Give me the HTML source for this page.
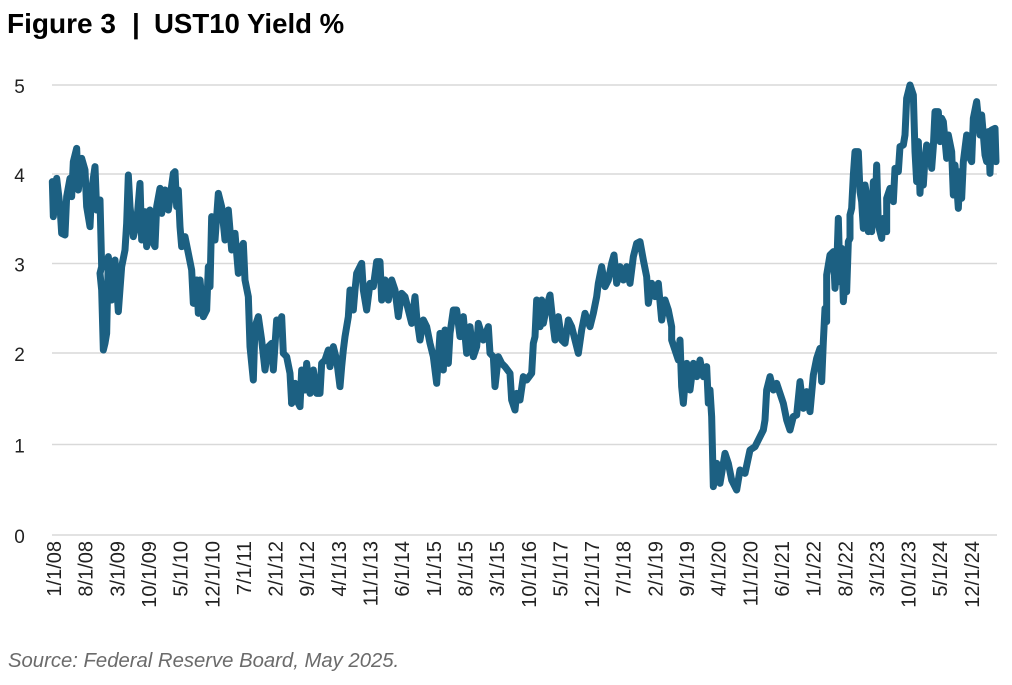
<!DOCTYPE html>
<html><head><meta charset="utf-8"><style>
html,body{margin:0;padding:0;background:#fff;}
body{width:1012px;height:685px;overflow:hidden;position:relative;font-family:"Liberation Sans",sans-serif;}
svg{position:absolute;left:0;top:0;}
</style></head><body>
<svg width="1012" height="685" viewBox="0 0 1012 685" xmlns="http://www.w3.org/2000/svg">
<text x="7" y="33" font-family="Liberation Sans, sans-serif" font-weight="bold" font-size="28" fill="#000">Figure 3</text>
<text x="132" y="33" font-family="Liberation Sans, sans-serif" font-weight="bold" font-size="28" fill="#000">|</text>
<text x="154" y="33" font-family="Liberation Sans, sans-serif" font-weight="bold" font-size="27.6" fill="#000">UST10 Yield %</text>

<g stroke="#d9d9d9" stroke-width="1.5">
<line x1="52" y1="85" x2="997" y2="85"/>
<line x1="52" y1="174" x2="997" y2="174"/>
<line x1="52" y1="263.5" x2="997" y2="263.5"/>
<line x1="52" y1="353" x2="997" y2="353"/>
<line x1="52" y1="444.5" x2="997" y2="444.5"/>
<line x1="52" y1="535" x2="997" y2="535"/>
</g>
<g font-family="Liberation Sans, sans-serif" font-size="19" fill="#222" text-anchor="middle">
<text x="19.5" y="93">5</text>
<text x="19.5" y="182">4</text>
<text x="19.5" y="271.5">3</text>
<text x="19.5" y="361">2</text>
<text x="19.5" y="452.5">1</text>
<text x="19.5" y="543">0</text>
</g>

<g fill="none" stroke="#1c6082" stroke-width="7" stroke-linejoin="round" stroke-linecap="round">
<polyline vector-effect="non-scaling-stroke" transform="matrix(0.333333,0,0,0.333333,45,140)" points="22,125 25,230 35,115 45,200 50,280 60,285 65,170 75,115 80,170 85,65 95,25 100,150 110,55 120,90 125,200 135,260 140,150 150,80 155,210 165,180 170,380 165,400 170,450 175,630 180,610 185,580 190,350 200,480 210,360 220,515 230,380 240,330 245,250 250,105 255,200 265,290 275,250 285,130 290,300 300,215 305,320 315,210 320,300 330,320 335,200 345,145 350,220 360,150 370,210 385,100 390,95 395,200 400,150 405,260 410,320 420,290 430,340 440,390 445,490 455,420 460,520 465,420 475,530 485,510 490,380 495,440 500,230 510,300 520,160 530,200 540,300 550,210 560,330 570,280 580,400 590,320 595,310 600,420 610,470 615,620 625,720 630,560 640,530 650,600 660,690 670,620 680,610 685,690 695,540 705,560 710,530 715,640 725,650 735,700 740,790"/>
<polyline vector-effect="non-scaling-stroke" transform="matrix(0.333333,0,0,0.333333,280,230)" points="35,520 45,460 55,520 60,530 65,420 75,480 80,400 90,490 100,420 110,490 120,490 125,400 135,390 145,360 150,410 160,350 170,390 180,470 185,410 190,360 195,320 205,260 210,180 220,240 225,180 230,130 245,100 250,180 260,240 270,160 280,170 290,95 300,95 305,210 315,150 325,210 335,150 345,180 355,260 365,190 375,200 385,240 395,280 405,200 410,260 420,330 430,270 440,290 450,340 460,380 470,460 480,310 490,420 495,300 505,400 510,310 520,240 530,240 540,320 550,260 560,370 570,290 580,380 590,350 595,280 610,330 625,290 630,370 640,380 645,470 655,380 665,400 675,410 690,430 695,510 705,540 710,490 720,510 730,440 740,450 755,430 760,340 765,320 770,210 780,290"/>
<polyline vector-effect="non-scaling-stroke" transform="matrix(0.333333,0,0,0.333333,540,230)" points="0,290 5,210 10,280 20,230 30,195 40,290 45,330 55,260 65,330 75,340 85,270 95,290 105,330 115,370 125,300 135,250 150,290 160,250 170,200 175,160 185,110 195,170 205,150 215,100 222,75 230,160 240,110 250,150 260,110 270,160 280,80 290,40 300,35 310,90 320,140 325,220 335,160 345,200 355,160 365,270 375,210 385,240 395,290 395,330 405,360 415,390 420,330 425,470 430,520 440,400 450,480 460,400 470,440 480,390 490,440 500,410 505,520 510,480 515,560 520,770 530,700 540,760 555,670 565,700 575,750 590,780 600,720 615,730 630,660 645,650 660,620 670,600 675,570 680,480 690,440 700,480 710,460 720,490 730,520 740,570 750,600 760,560"/>
<polyline vector-effect="non-scaling-stroke" transform="matrix(0.333333,0,0,0.333333,790,75)" points="10,1025 20,1020 30,920 40,1000 50,950 60,1010 70,900 80,850 90,820 95,920 100,800 105,700 110,740 110,600 120,540 130,530 135,640 140,580 145,430 150,620 155,520 160,680 165,620 170,650 175,500 180,490 180,420 185,400 190,300 195,230 205,230 210,350 215,380 220,460 225,330 230,360 235,470 240,380 245,470 250,320 255,430 260,270 265,450 275,490 280,430 290,470 290,370 300,340 310,380 315,280 325,290 330,215 340,210 345,180 350,70 360,30 370,60 375,230 380,320 385,200 390,355 395,260 400,330 405,250 410,210 420,230 425,280 430,215 435,110 445,110 450,200 455,130 460,140 470,250 475,180 485,230 490,360 495,270 500,330 505,400 510,290 515,370 520,260 525,220 530,180 535,240 545,260 550,130 560,80 570,180 575,120 585,240 590,260 595,170 600,295 605,165 615,160 618,260"/>
</g>

<g font-family="Liberation Sans, sans-serif" font-size="20" fill="#222" text-anchor="end">
<text transform="translate(61,541) rotate(-90)">1/1/08</text>
<text transform="translate(92.65,541) rotate(-90)">8/1/08</text>
<text transform="translate(124.3,541) rotate(-90)">3/1/09</text>
<text transform="translate(155.95,541) rotate(-90)">10/1/09</text>
<text transform="translate(187.6,541) rotate(-90)">5/1/10</text>
<text transform="translate(219.25,541) rotate(-90)">12/1/10</text>
<text transform="translate(250.9,541) rotate(-90)">7/1/11</text>
<text transform="translate(282.55,541) rotate(-90)">2/1/12</text>
<text transform="translate(314.2,541) rotate(-90)">9/1/12</text>
<text transform="translate(345.85,541) rotate(-90)">4/1/13</text>
<text transform="translate(377.5,541) rotate(-90)">11/1/13</text>
<text transform="translate(409.15,541) rotate(-90)">6/1/14</text>
<text transform="translate(440.8,541) rotate(-90)">1/1/15</text>
<text transform="translate(472.45,541) rotate(-90)">8/1/15</text>
<text transform="translate(504.1,541) rotate(-90)">3/1/15</text>
<text transform="translate(535.75,541) rotate(-90)">10/1/16</text>
<text transform="translate(567.4,541) rotate(-90)">5/1/17</text>
<text transform="translate(599.05,541) rotate(-90)">12/1/17</text>
<text transform="translate(630.7,541) rotate(-90)">7/1/18</text>
<text transform="translate(662.35,541) rotate(-90)">2/1/19</text>
<text transform="translate(694,541) rotate(-90)">9/1/19</text>
<text transform="translate(725.65,541) rotate(-90)">4/1/20</text>
<text transform="translate(757.3,541) rotate(-90)">11/1/20</text>
<text transform="translate(788.95,541) rotate(-90)">6/1/21</text>
<text transform="translate(820.6,541) rotate(-90)">1/1/22</text>
<text transform="translate(852.25,541) rotate(-90)">8/1/22</text>
<text transform="translate(883.9,541) rotate(-90)">3/1/23</text>
<text transform="translate(915.55,541) rotate(-90)">10/1/23</text>
<text transform="translate(947.2,541) rotate(-90)">5/1/24</text>
<text transform="translate(978.85,541) rotate(-90)">12/1/24</text>
</g>

<text x="8" y="667" font-family="Liberation Sans, sans-serif" font-style="italic" font-size="20.3" fill="#6b6b6b">Source: Federal Reserve Board, May 2025.</text>
</svg>
</body></html>
